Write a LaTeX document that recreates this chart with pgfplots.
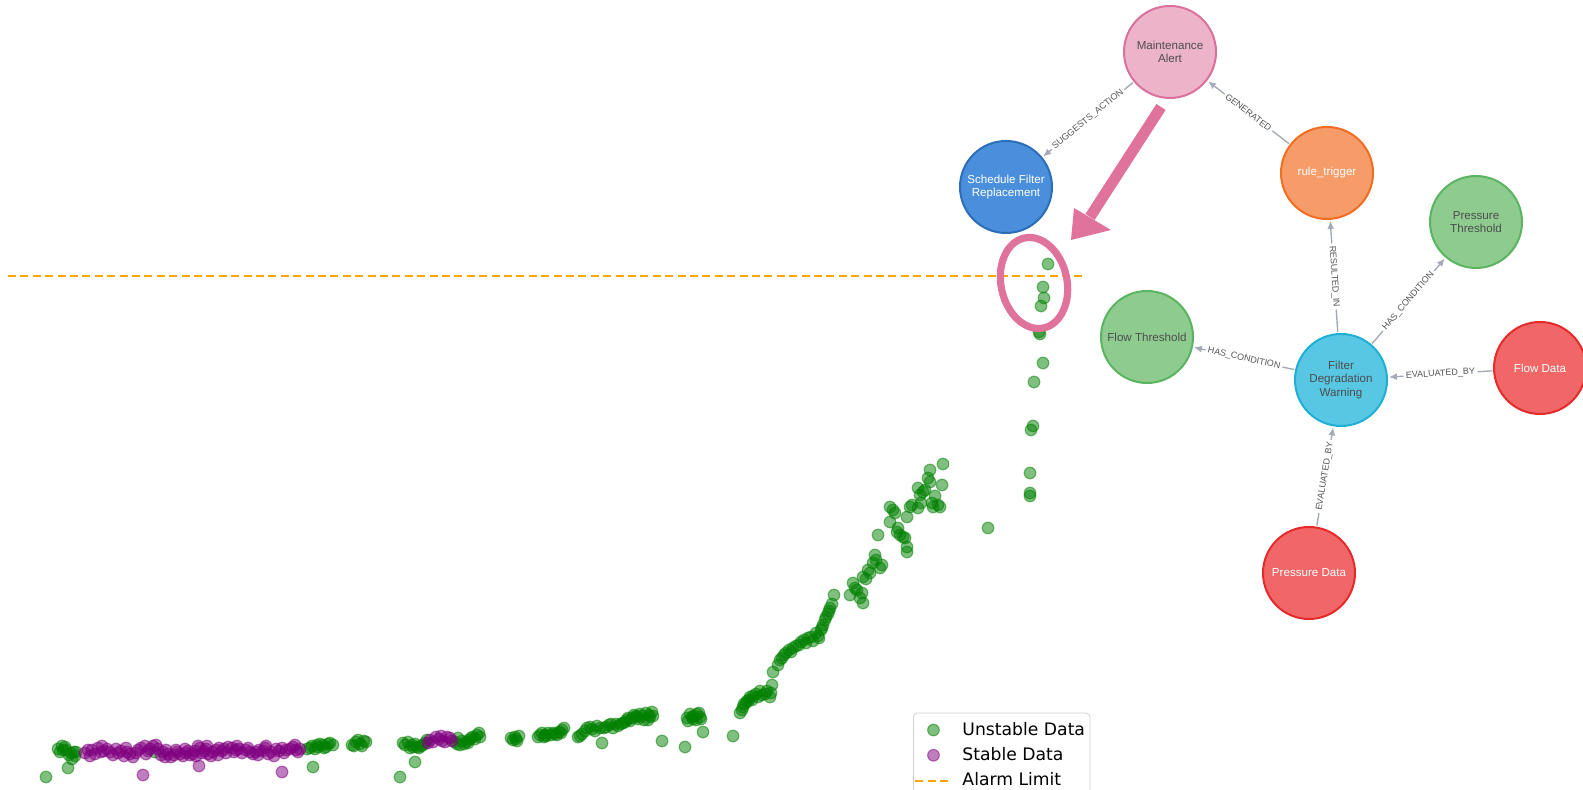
\documentclass[border=0pt]{standalone}
\usepackage{pgfplots}
\pgfplotsset{compat=1.18}
\usepackage{fontspec}
\setmainfont{Liberation Sans}
\newfontfamily\dejavu{DejaVu Sans}
\usetikzlibrary{arrows.meta}
\definecolor{mplgreen}{HTML}{008000}
\definecolor{mplpurple}{HTML}{800080}
\definecolor{alarm}{HTML}{FFA500}
\definecolor{pinkmark}{HTML}{E0739C}
\definecolor{edgegray}{HTML}{A5ABB6}
\definecolor{labgray}{HTML}{555555}
\definecolor{txtdark}{HTML}{4D4D4D}
\definecolor{maF}{HTML}{ECB3C9}\definecolor{maD}{HTML}{D9719C}
\definecolor{sfF}{HTML}{4A8FDC}\definecolor{sfD}{HTML}{2C6DB8}
\definecolor{rtF}{HTML}{F69C68}\definecolor{rtD}{HTML}{F26C22}
\definecolor{thF}{HTML}{8ECB8F}\definecolor{thD}{HTML}{5CB461}
\definecolor{fdF}{HTML}{57C7E3}\definecolor{fdD}{HTML}{20AFD4}
\definecolor{daF}{HTML}{F16667}\definecolor{daD}{HTML}{E42A2A}
\begin{document}
\begin{tikzpicture}
\begin{axis}[
  scale only axis, width=791.5pt, height=395pt,
  xmin=0, xmax=1583, ymin=0, ymax=790, y dir=reverse,
  hide axis, clip=false,
  legend style={at={(0.5768,0.098)}, anchor=north west, draw=black!18,
    rounded corners=2pt, fill=white, font=\dejavu\fontsize{8.6}{10}\selectfont,
    row sep=0.6pt, inner xsep=0.5pt, inner ysep=2.5pt},
  legend cell align=left,
  legend image code/.code={\draw[#1] (0pt,0pt) -- (18pt,0pt); \path[draw=none] (0pt,0pt) -- (21.5pt,0pt);},
]
\addplot[only marks, mark=*, mark size=2.9pt,
  mark options={fill=mplgreen, draw=mplgreen, opacity=0.5, line width=0.6pt},
  legend image code/.code={\path[draw=none] plot[mark=*, only marks, mark size=2.9pt, mark options={fill=mplgreen, draw=mplgreen, opacity=0.5, line width=0.6pt}] coordinates {(9pt,0pt)}; \path[draw=none] (0pt,0pt) -- (21.5pt,0pt);}]
coordinates {
(46,777) (68,768) (58,749) (62,746) (66,750) (71,753) (75,756) (72,759) (155,752)
(60,752) (65,747) (69,755) (74,752) (63,750) (76,752)
(307,749) (312,746) (318,747) (323,745) (328,744) (313,767)
(310,748) (315,749) (320,744) (326,747) (330,743) (333,745) (317,745) (324,748)
(352,745) (356,742) (360,744) (364,741) (354,746) (358,740) (362,746) (366,742)
(400,777) (415,762) (403,743) (408,742) (412,745) (417,747) (421,746) (425,743)
(405,745) (410,748) (415,744) (419,748) (423,745) (427,740) (413,747)
(455,742) (460,745) (464,744) (469,740) (473,737) (477,735) (458,738)
(457,744) (462,741) (466,742) (471,738) (475,739) (479,733) (480,737) (468,743)
(511,738) (515,737) (517,741) (540,735) (544,737) (548,733) (555,734) (559,732) (562,730)
(513,740) (519,736) (538,737) (542,733) (546,736) (551,735) (557,735) (561,733) (564,728)
(516,739) (545,735) (553,733)
(578,737) (582,734) (587,728) (592,729) (597,726) (602,743) (604,728) (609,725) (613,728)
(580,736) (585,731) (590,727) (595,731) (600,728) (606,727) (611,724) (616,724) (621,724)
(618,726) (625,722) (628,718) (632,718) (636,716) (640,714) (644,720) (648,720) (652,712)
(627,720) (630,721) (634,715) (638,719) (642,716) (646,713) (650,717) (653,716)
(623,723) (637,717) (649,715)
(662,741) (685,747) (687,718) (690,714) (694,716) (697,714) (700,717) (703,732) (733,736)
(688,721) (692,717) (696,720) (699,713) (701,719) (693,719)
(742,710) (744,704) (747,701) (750,697)
(740,713) (743,707) (746,703) (749,700) (753,696) (758,697) (762,695) (767,691) (771,693)
(752,700) (756,694) (760,691) (765,694) (770,697) (772,685) (773,672)
(780,660) (784,655) (789,650) (793,648) (799,645) (804,640) (808,638) (813,641) (818,636)
(778,665) (782,658) (786,653) (791,652) (796,646) (801,642) (806,643) (811,637) (816,633)
(821,630) (823,625) (825,620) (828,614) (830,608) (834,595) (850,595) (853,583) (857,590)
(819,638) (822,628) (826,617) (829,611) (832,604) (855,588) (860,598) (866,579) (868,570)
(862,593) (863,603) (863,577) (870,573) (873,563) (875,555) (882,565) (878,535)
(876,560) (880,568)
(890,507) (890,522) (895,513) (897,532) (900,535) (905,538) (907,547) (907,552) (907,517)
(893,510) (898,528) (903,537) (912,505) (921,503) (925,490) (928,478) (935,496) (938,505)
(910,507) (918,508) (918,488) (920,495) (923,492) (930,470) (930,482) (932,503) (933,507)
(940,507) (942,485) (943,464) (988,528)
(1030,473) (1030,493) (1030,496) (1031,430) (1033,426) (1034,382) (1043,363) (1039,332)
(1040,334) (1041,306) (1044,298) (1043,287) (1048,264)
};
\addlegendentry{Unstable Data}
\addplot[only marks, mark=*, mark size=2.9pt,
  mark options={fill=mplpurple, draw=mplpurple, opacity=0.5, line width=0.6pt},
  legend image code/.code={\path[draw=none] plot[mark=*, only marks, mark size=2.9pt, mark options={fill=mplpurple, draw=mplpurple, opacity=0.5, line width=0.6pt}] coordinates {(9pt,0pt)}; \path[draw=none] (0pt,0pt) -- (21.5pt,0pt);}]
coordinates {
(85,753) (92,750) (98,748) (104,751) (110,752) (118,753) (124,756) (130,754) (138,750)
(145,746) (150,749) (158,749) (163,752) (168,754) (174,755) (180,754) (186,753) (190,755)
(195,751) (200,748) (204,751) (208,754) (213,752) (219,748) (224,749) (232,748) (236,750)
(242,753) (250,752) (256,752) (263,751) (268,754) (276,749) (282,748) (290,749) (296,750)
(300,749) (143,775) (199,766) (282,772)
(88,750) (95,754) (101,752) (107,749) (113,755) (121,751) (127,752) (133,757) (141,748)
(148,751) (153,746) (161,755) (166,750) (171,757) (177,752) (183,756) (188,751) (193,754)
(198,746) (202,753) (206,749) (211,756) (216,750) (222,751) (228,747) (234,752) (239,749)
(246,750) (253,754) (259,750) (265,748) (271,752) (279,751) (286,750) (293,747) (298,752)
(90,756) (102,746) (116,749) (126,748) (136,753) (146,754) (156,745) (165,757) (176,750)
(185,749) (196,756) (207,746) (218,755) (226,753) (237,746) (248,748) (258,755) (266,746)
(274,756) (284,753) (295,745)
(430,740) (436,737) (442,741) (447,737) (452,741)
(428,743) (433,742) (439,739) (445,742) (450,738) (441,736)
};
\addlegendentry{Stable Data}
\addplot[alarm, line width=1pt, dash pattern=on 4pt off 2.2pt] coordinates {(8,276) (1082,276)};
\addlegendentry{Alarm Limit}
\end{axis}
\begin{scope}[shift={(0pt,395pt)}, x=0.5pt, y=-0.5pt]
  % highlight
  \draw[pinkmark, line width=3.6pt, rotate around={12:(1034,283)}] (1034,283) ellipse [x radius=33, y radius=46];
  \draw[pinkmark, line width=5.5pt] (1161,107) -- (1090,217);
  \fill[pinkmark] (1074,208) -- (1111,230) -- (1071,240) -- cycle;
  % graph nodes
  \tikzset{gn/.style={circle, minimum size=46pt, inner sep=0pt, line width=1pt, outer sep=1pt,
      align=center, font=\fontsize{5.8}{6.7}\selectfont},
    edge/.style={draw=edgegray, line width=0.7pt, -{Latex[length=4pt,width=3.5pt]}},
    lab/.style={sloped, fill=white, inner sep=1.2pt, text=labgray, font=\fontsize{4.5}{5}\selectfont}}
  \node[gn, fill=maF, draw=maD, text=txtdark] (MA) at (1170,52) {Maintenance\\Alert};
  \node[gn, fill=sfF, draw=sfD, text=white] (SF) at (1006,187) {Schedule Filter\\Replacement};
  \node[gn, fill=rtF, draw=rtD, text=white] (RT) at (1327,173) {rule\_trigger};
  \node[gn, fill=thF, draw=thD, text=txtdark] (PT) at (1476,222) {Pressure\\Threshold};
  \node[gn, fill=thF, draw=thD, text=txtdark] (FT) at (1147,337) {Flow Threshold};
  \node[gn, fill=fdF, draw=fdD, text=txtdark] (FW) at (1341,380) {Filter\\Degradation\\Warning};
  \node[gn, fill=daF, draw=daD, text=white] (FD) at (1540,368) {Flow Data};
  \node[gn, fill=daF, draw=daD, text=white] (PD) at (1309,573) {Pressure Data};
  \draw[edge] (MA) -- node[lab]{SUGGESTS\_ACTION} (SF);
  \draw[edge] (RT) -- node[lab]{GENERATED} (MA);
  \draw[edge] (FW) -- node[lab]{RESULTED\_IN} (RT);
  \draw[edge] (FW) -- node[lab]{HAS\_CONDITION} (PT);
  \draw[edge] (FW) -- node[lab]{HAS\_CONDITION} (FT);
  \draw[edge] (FD) -- node[lab]{EVALUATED\_BY} (FW);
  \draw[edge] (PD) -- node[lab]{EVALUATED\_BY} (FW);
\end{scope}
\pgfresetboundingbox
\path[use as bounding box] (0,0) rectangle (791.5pt,395pt);
\end{tikzpicture}
\end{document}
